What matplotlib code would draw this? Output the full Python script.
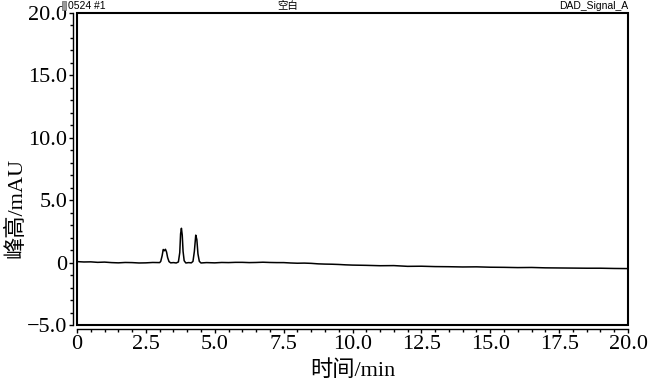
import matplotlib.pyplot as plt
from matplotlib.patches import Rectangle
from matplotlib.ticker import MultipleLocator, FuncFormatter

# trace (time in min, signal in mAU)
time_min = [0.0, 0.25, 0.5, 0.75, 1.0, 1.25, 1.5, 1.75, 2.0, 2.25, 2.5, 2.75,
            3.0, 3.04, 3.09, 3.13, 3.17, 3.21, 3.25, 3.29, 3.34, 3.4, 3.5, 3.6,
            3.68, 3.73, 3.76, 3.79, 3.82, 3.85, 3.89, 3.95, 4.05, 4.15, 4.21,
            4.26, 4.31, 4.35, 4.39, 4.44, 4.5, 4.7, 5.0, 5.25, 5.5, 5.75, 6.0,
            6.25, 6.5, 6.75, 7.0, 7.25, 7.5, 7.75, 8.0, 8.25, 8.5, 8.75, 9.0,
            9.25, 9.5, 9.75, 10.0, 10.5, 11.0, 11.5, 12.0, 12.5, 13.0, 13.5,
            14.0, 14.5, 15.0, 15.5, 16.0, 16.5, 17.0, 17.5, 18.0, 18.5, 19.0,
            19.5, 20.0]
signal_mau = [0.08, 0.05, 0.06, 0.02, 0.04, 0.0, -0.02, 0.01, 0.0, -0.03, -0.02, 0.01,
              0.0, 0.1, 0.55, 1.05, 0.95, 1.07, 0.85, 0.4, 0.08, -0.02, 0.0, -0.03,
              0.05, 0.8, 2.3, 2.75, 2.2, 0.9, 0.15, -0.03, 0.0, -0.02, 0.1,
              0.9, 2.2, 1.85, 0.7, 0.1, -0.03, 0.0, -0.02, 0.01, 0.0, 0.02, 0.02,
              0.0, 0.01, 0.03, 0.01, 0.0, 0.0, -0.03, -0.05, -0.04, -0.06, -0.1, -0.12,
              -0.13, -0.15, -0.18, -0.2, -0.22, -0.25, -0.24, -0.3, -0.29, -0.32, -0.33,
              -0.35, -0.34, -0.37, -0.38, -0.4, -0.39, -0.42, -0.43, -0.44, -0.45, -0.45,
              -0.47, -0.48]

serif = ['Liberation Serif', 'Noto Sans CJK SC']
sans = ['Liberation Sans', 'Noto Sans CJK SC']

fig = plt.figure(figsize=(6.5, 3.84), dpi=100)
ax = fig.add_axes([77 / 650, 1 - 325 / 384, 551 / 650, 312 / 384])

ax.plot(time_min, signal_mau, color='black', linewidth=1.1)
ax.set_xlim(0, 20)
ax.set_ylim(-5, 20)

# plot frame
ax.add_patch(Rectangle((0, 0), 1, 1, transform=ax.transAxes, fill=False,
                       edgecolor='black', linewidth=1.5, clip_on=False))

# offset axis lines with ticks
for side in ['left', 'bottom']:
    ax.spines[side].set_position(('outward', 3))
    ax.spines[side].set_linewidth(1.0)
for side in ['top', 'right']:
    ax.spines[side].set_visible(False)

ax.xaxis.set_major_locator(MultipleLocator(2.5))
ax.xaxis.set_minor_locator(MultipleLocator(0.5))
ax.yaxis.set_major_locator(MultipleLocator(5))
ax.yaxis.set_minor_locator(MultipleLocator(1))
fmt = FuncFormatter(lambda v, p: '0' if abs(v) < 1e-9 else ('%.1f' % v).replace('-', '\u2212'))
ax.xaxis.set_major_formatter(fmt)
ax.yaxis.set_major_formatter(fmt)
ax.tick_params(which='major', length=3, width=1.0, direction='out', pad=1)
ax.tick_params(which='minor', length=2, width=1.0, direction='out')
for lab in ax.get_xticklabels() + ax.get_yticklabels():
    lab.set_fontfamily(serif)
    lab.set_fontsize(16)

ax.set_xlabel('时间/min', fontsize=16, family=serif, labelpad=5)
ax.set_ylabel('峰高/mAU', fontsize=16, family=serif)
ax.yaxis.set_label_coords(-0.092, 0.375)

# header above the frame
fig.patches.append(Rectangle((62 / 650, 1 - 10 / 384), 4 / 650, 9 / 384,
                             transform=fig.transFigure, facecolor='#999999',
                             edgecolor='#666666', linewidth=0.5))
fig.text(68 / 650, 1 - 6 / 384, '0524 #1', fontsize=7.5, family=sans, va='center', ha='left')
fig.text(288 / 650, 1 - 6 / 384, '空白', fontsize=7.5, family=sans, va='center', ha='center')
fig.text(628 / 650, 1 - 6 / 384, 'DAD_Signal_A', fontsize=7.5, family=sans, va='center', ha='right')

fig.savefig('out.png', dpi=100)
